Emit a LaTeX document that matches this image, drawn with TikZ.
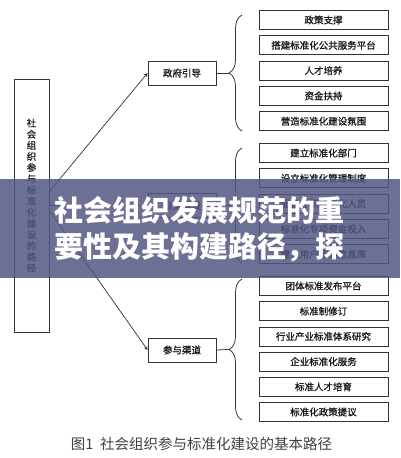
\documentclass[tikz,border=0pt]{standalone}
\usepackage{fontspec}
\newfontfamily\cjk{Noto Sans CJK SC}
\newfontfamily\cjkheavy[FakeBold=1.2]{Noto Sans CJK SC}
\usetikzlibrary{decorations.pathreplacing}
\definecolor{linegray}{RGB}{51,51,51}
\definecolor{bannerblue}{RGB}{82,87,131}
\begin{document}
\begin{tikzpicture}[x=1pt,y=-1pt,
        item/.style={draw=linegray,line width=0.8pt,minimum width=129pt,minimum height=19pt,inner sep=0pt,
            font=\cjkheavy\fontsize{9.5}{11}\selectfont,text=black!90},
        route/.style={draw=linegray,line width=0.8pt,minimum width=68pt,minimum height=24pt,inner sep=0pt,
            font=\cjkheavy\fontsize{9.5}{11}\selectfont,text=black!90},
        bracket/.style={draw=linegray,line width=0.8pt,decorate,decoration={brace,amplitude=13pt}},
        link/.style={draw=linegray,line width=0.7pt,-stealth}]
    \useasboundingbox (0,0) rectangle (400,458);
    % left column
    \node[draw=linegray,line width=0.8pt,minimum width=35pt,minimum height=253pt,inner sep=0pt] (root) at (31.5,205.5) {};
    \node[align=center,inner sep=0pt,font=\cjkheavy\fontsize{9.5}{11.15}\selectfont,text=black!85] (roottext) at (31.5,195.5)
        {社\\会\\组\\织\\参\\与\\标\\准\\化\\建\\设\\的\\路\\径};
    % middle column
    \node[route] (gov) at (182,73) {政府引导};
    \node[route] (self) at (182,205.5) {自身建设};
    \node[route] (join) at (182,350) {参与渠道};
    \draw[link] ([yshift=14pt]root.east) -- (gov.west);
    \draw[link] (root.east) -- (self.west);
    \draw[link] ([yshift=-5pt]root.east) -- (join.west);
    % right column
    \foreach \t [count=\i] in {政策支撑,搭建标准化公共服务平台,人才培养,资金扶持,营造标准化建设氛围}
        \node[item] (ga-\i) at (323.5,{20+25.3*(\i-1)}) {\t};
    \foreach \t [count=\i] in {建立标准化部门,设立标准化管理制度,配备专职标准化人员,标准化专项资金投入,建立用户标准信息库}
        \node[item] (gb-\i) at (323.5,{153+25.3*(\i-1)}) {\t};
    \foreach \t [count=\i] in {团体标准发布平台,标准制修订,行业产业标准体系研究,企业标准化服务,标准人才培育,标准化政策提议}
        \node[item] (gc-\i) at (323.5,{286+25.2*(\i-1)}) {\t};
    % braces
    \draw[bracket] (242,131) -- (242,15);
    \draw[bracket] (242,263) -- (242,148);
    \draw[bracket] (242,420) -- (242,279);
    \coordinate (tipa) at (229,73);
    \coordinate (tipb) at (229,205.5);
    \coordinate (tipc) at (229,349.5);
    \draw[linegray,line width=0.8pt] (gov.east) -- (tipa);
    \draw[linegray,line width=0.8pt] (self.east) -- (tipb);
    \draw[linegray,line width=0.8pt] (join.east) -- (tipc);
    % caption
    \node[font=\cjk\fontsize{14.5}{16}\selectfont,text=black!75] (caption) at (201.5,444) {图1\ \ 社会组织参与标准化建设的基本路径};
    % banner
    \fill[bannerblue,fill opacity=0.85] (0,179) rectangle (400,278);
    \node[text=white,font=\cjk\bfseries\fontsize{29}{36.5}\selectfont,align=left,inner sep=0pt] (title) at (199,229)
        {社会组织发展规范的重\\要性及其构建路径，探};
\end{tikzpicture}
\end{document}
